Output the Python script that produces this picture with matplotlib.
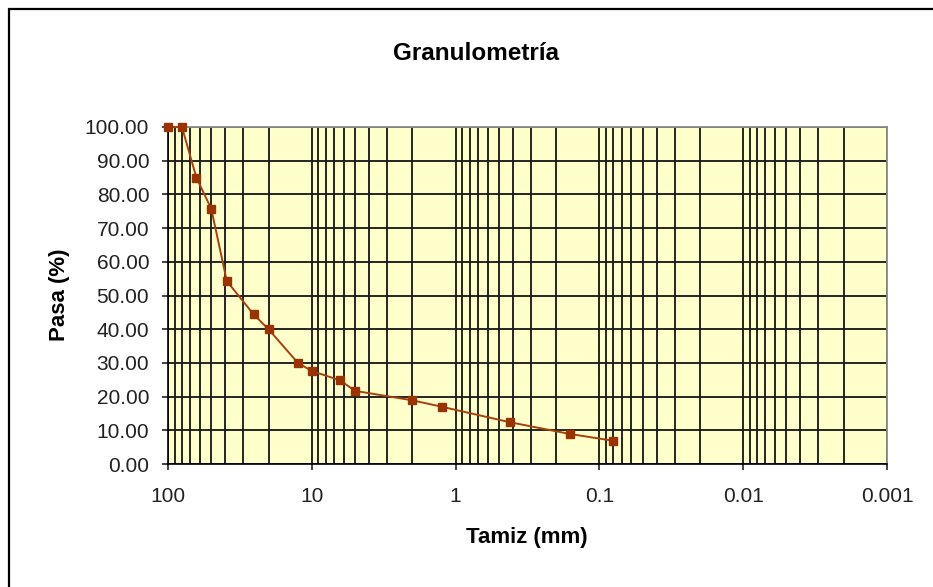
import numpy as np
import matplotlib
matplotlib.use('Agg')
from matplotlib import pyplot as plt
from matplotlib.patches import Rectangle
from matplotlib.ticker import FixedLocator, LogLocator, NullFormatter

plt.rcParams['font.family'] = ['Liberation Sans', 'DejaVu Sans']

# sieve opening (mm) and percent passing
tamiz = [100, 80, 63.5, 50, 39, 25.4, 20, 12.5, 10, 6.35, 5, 2, 1.25, 0.42, 0.16, 0.08]
pasa = [100, 100, 85.0, 75.7, 54.3, 44.4, 40.0, 30.0, 27.6, 24.8, 21.7, 18.9, 17.0, 12.4, 8.9, 6.9]

x_ticks = [100, 10, 1, 0.1, 0.01, 0.001]
x_labels = ['100', '10', '1', '0.1', '0.01', '0.001']
y_ticks = np.arange(0, 101, 10)

W, H = 933, 587
fig = plt.figure(figsize=(W / 100, H / 100), dpi=100)
fig.patch.set_facecolor('white')

# chart frame, runs off the right and bottom edges
fig.patches.append(Rectangle((8.5 / W, -0.05), 1.1, 1 - 8.5 / H + 0.05,
                             transform=fig.transFigure, fill=False,
                             edgecolor='black', linewidth=1.6))

left, right, top, bottom = 168, 887, 127, 464
ax = fig.add_axes([left / W, 1 - bottom / H, (right - left) / W, (bottom - top) / H])
ax.set_facecolor('#FFFFCC')

ax.set_xscale('log')
ax.set_xlim(100, 0.001)
ax.set_ylim(0, 100)

ax.xaxis.set_major_locator(FixedLocator(x_ticks))
ax.set_xticklabels(x_labels)
ax.xaxis.set_minor_locator(LogLocator(base=10, subs=np.arange(2, 10)))
ax.xaxis.set_minor_formatter(NullFormatter())
ax.set_yticks(y_ticks)
ax.set_yticklabels(['%.2f' % v for v in y_ticks])

grid_kw = dict(color='#1c1c1c', linewidth=1.35)
ax.grid(True, which='major', axis='both', **grid_kw)
ax.grid(True, which='minor', axis='x', **grid_kw)
ax.set_axisbelow(True)

ax.tick_params(axis='x', which='major', direction='out', length=4.5, width=1.2,
               color='#222222', labelsize=15, pad=12, labelcolor='#222222')
ax.tick_params(axis='x', which='minor', length=0)
ax.tick_params(axis='y', direction='out', length=4.5, width=1.2,
               color='#222222', labelsize=15, pad=9, labelcolor='#222222')

for side in ['left', 'bottom']:
    ax.spines[side].set_color('black')
    ax.spines[side].set_linewidth(1.2)
for side in ['top', 'right']:
    ax.spines[side].set_color('#8c8c8c')
    ax.spines[side].set_linewidth(1.3)

ax.plot(tamiz, pasa, '-', color='#A8400D', linewidth=1.4, marker='s',
        markersize=5.5, markerfacecolor='#993300', markeredgecolor='#993300',
        clip_on=False, zorder=5)

fig.text(476 / W, 1 - 54 / H, 'Granulometría', ha='center', va='center',
         fontsize=17.5, fontweight='bold')
fig.text(527 / W, 1 - 538 / H, 'Tamiz (mm)', ha='center', va='center',
         fontsize=16, fontweight='bold')
fig.text(60 / W, 1 - 295 / H, 'Pasa (%)', ha='center', va='center',
         rotation=90, fontsize=16, fontweight='bold')

fig.savefig('out.png', dpi=100)
